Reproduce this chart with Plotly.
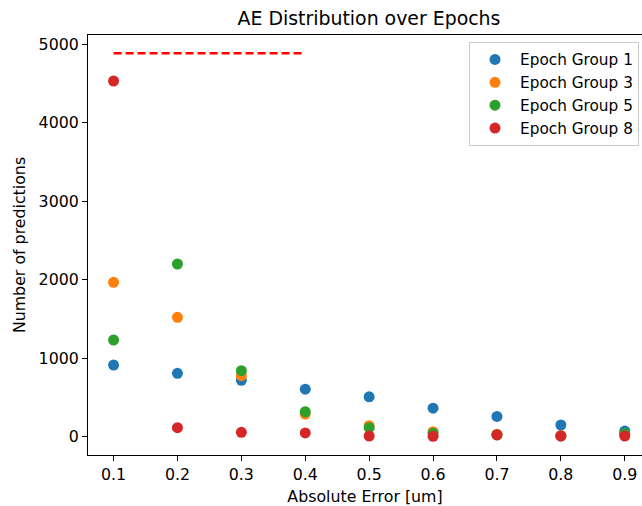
import plotly.graph_objects as go

# Absolute error bins (um)
abs_error = [0.1, 0.2, 0.3, 0.4, 0.5, 0.6, 0.7, 0.8, 0.9]

# Number of predictions per error bin for each epoch group
epoch_group_1 = [913, 807, 718, 606, 508, 364, 258, 149, 72]
epoch_group_3 = [1967, 1521, 777, 289, 140, 64, 30, 14, 28]
epoch_group_5 = [1232, 2200, 841, 318, 115, 43, 25, 10, 40]
epoch_group_8 = [4531, 115, 56, 48, 9, 5, 22, 9, 8]

series_names = ["Epoch Group 1", "Epoch Group 3", "Epoch Group 5", "Epoch Group 8"]
series_values = [epoch_group_1, epoch_group_3, epoch_group_5, epoch_group_8]
series_colors = ["#1f77b4", "#ff7f0e", "#2ca02c", "#d62728"]

# Horizontal reference level drawn as a dashed red segment
ref_x = [0.1, 0.4]
ref_level = [4884, 4884]

FONT = "DejaVu Sans, Liberation Sans, sans-serif"
BASE = 15.8

fig = go.Figure()

fig.add_trace(go.Scatter(
    x=ref_x, y=ref_level, mode="lines",
    line=dict(color="#ff0000", width=2.6, dash="8px,4px"),
    showlegend=False, hoverinfo="skip",
))

for i, (name, vals, col) in enumerate(zip(series_names, series_values, series_colors)):
    fig.add_trace(go.Scatter(
        x=abs_error, y=vals, mode="markers", name=name,
        legendgroup=f"g{i}",
        marker=dict(color=col, size=11, line=dict(width=0)),
    ))

fig.update_layout(
    width=642, height=506,
    margin=dict(l=88, r=0, t=35, b=51, autoexpand=False),
    paper_bgcolor="white", plot_bgcolor="white",
    font=dict(family=FONT, size=BASE, color="#000000"),
    title=dict(text="AE Distribution over Epochs", x=369 / 642, xref="container",
               xanchor="center", y=1 - 18 / 506, yref="container", yanchor="middle",
               font=dict(family=FONT, size=18.9, color="#000000")),
    legend=dict(
        x=(469 - 88) / 554, xref="paper", y=1 - 7 / 420, yanchor="top",
        bgcolor="rgba(255,255,255,0.8)", bordercolor="#cccccc", borderwidth=1,
        font=dict(family=FONT, size=15.3, color="#000000"),
        tracegroupgap=0, itemwidth=40,
    ),
    xaxis=dict(
        range=[0.06, 0.06 + 554 / 639],
        tickvals=abs_error, ticktext=[f"{v:.1f}" for v in abs_error],
        showline=True, mirror=True, linecolor="#000000", linewidth=1.1,
        ticks="outside", ticklen=5, tickwidth=1.1, tickcolor="#000000",
        showgrid=False, zeroline=False,
        title=dict(text="Absolute Error [um]", standoff=9,
                   font=dict(family=FONT, size=BASE)),
    ),
    yaxis=dict(
        range=[-233, 5117],
        tickvals=[0, 1000, 2000, 3000, 4000, 5000],
        showline=True, mirror=False, linecolor="#000000", linewidth=1.1,
        ticks="outside", ticklen=5, tickwidth=1.1, tickcolor="#000000",
        showgrid=False, zeroline=False,
        title=dict(text="Number of predictions", standoff=9,
                   font=dict(family=FONT, size=BASE)),
    ),
)

fig.write_html("out.html")
